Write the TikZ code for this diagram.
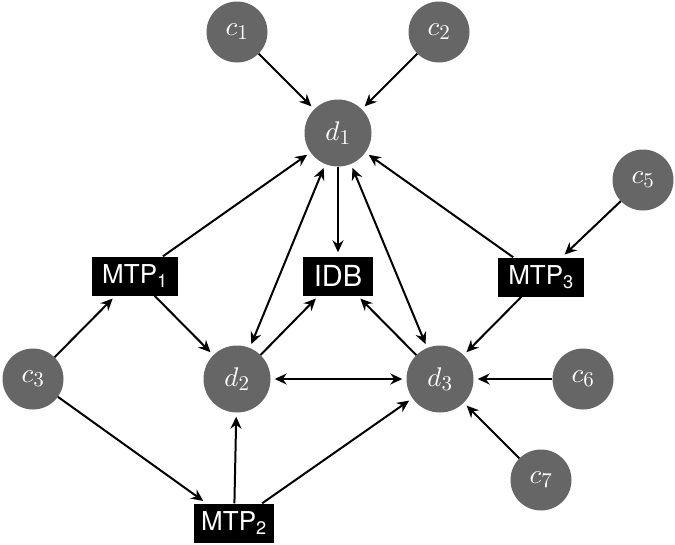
\documentclass[tikz,border=0pt]{standalone}
\usepackage{fontspec}
\setsansfont{TeX Gyre Heros}
\DeclareFontFamily{OML}{cmm}{\skewchar\font127 }
\DeclareFontShape{OML}{cmm}{m}{it}{<->cmmi10}{}
\DeclareFontFamily{OT1}{cmr}{\hyphenchar\font45 }
\DeclareFontShape{OT1}{cmr}{m}{n}{<->cmr10}{}
\DeclareFontFamily{OMS}{cmsy}{\skewchar\font48 }
\DeclareFontShape{OMS}{cmsy}{m}{n}{<->cmsy10}{}
\DeclareMathSizes{27}{27}{21}{17}
\usetikzlibrary{arrows.meta}
\definecolor{nodegray}{RGB}{102,102,102}
\tikzset{
  cnode/.style={circle, fill=nodegray, text=white, minimum size=61pt, inner sep=0pt, font=\fontsize{27}{31}\selectfont},
  dnode/.style={circle, fill=nodegray, text=white, minimum size=67pt, inner sep=0pt, font=\fontsize{27}{31}\selectfont},
  bnode/.style={rectangle, fill=black, text=white, minimum height=39pt, inner xsep=10pt, inner ysep=0pt, font=\sffamily\fontsize{26}{30}\selectfont},
  arr/.style={line width=2pt, -{Stealth[length=12pt,width=11pt,inset=4pt]}, shorten >=4pt},
  darr/.style={line width=2pt, {Stealth[length=12pt,width=11pt,inset=4pt]}-{Stealth[length=12pt,width=11pt,inset=4pt]}, shorten >=4pt, shorten <=4pt}
}
\begin{document}
\begin{tikzpicture}[x=1pt,y=-1pt]
\useasboundingbox (0,0) rectangle (675,544);
\node[cnode] (c1) at (237,32) {$c_1$};
\node[cnode] (c2) at (439,32) {$c_2$};
\node[dnode] (d1) at (338,133) {$d_1$};
\node[cnode] (c5) at (643,180) {$c_5$};
\node[bnode] (m1) at (135,276) {MTP\textsubscript{1}};
\node[bnode, minimum width=70pt, font=\sffamily\fontsize{29}{33}\selectfont] (idb) at (338,276) {IDB};
\node[bnode] (m3) at (541,277) {MTP\textsubscript{3}};
\node[cnode] (c3) at (33,379) {$c_3$};
\node[dnode] (d2) at (237,379) {$d_2$};
\node[dnode] (d3) at (440,379) {$d_3$};
\node[cnode] (c6) at (583,379) {$c_6$};
\node[cnode] (c7) at (541,480) {$c_7$};
\node[bnode, inner xsep=7pt] (m2) at (234,523) {MTP\textsubscript{2}};

\draw[arr] (c1) -- (d1);
\draw[arr] (c2) -- (d1);
\draw[arr] (m1) -- (d1);
\draw[arr] (m1) -- (d2);
\draw[arr] (c3) -- (m1);
\draw[arr] (c3) -- (m2);
\draw[arr] (m2) -- (d2);
\draw[arr] (m2) -- (d3);
\draw[arr] (d1) -- (idb);
\draw[darr] (d1) -- (d2);
\draw[darr] (d1) -- (d3);
\draw[arr] (d2) -- (idb);
\draw[arr] (d3) -- (idb);
\draw[darr] (d2) -- (d3);
\draw[arr] (m3) -- (d1);
\draw[arr] (c5) -- (m3);
\draw[arr] (m3) -- (d3);
\draw[arr] (c6) -- (d3);
\draw[arr] (c7) -- (d3);
\end{tikzpicture}
\end{document}
